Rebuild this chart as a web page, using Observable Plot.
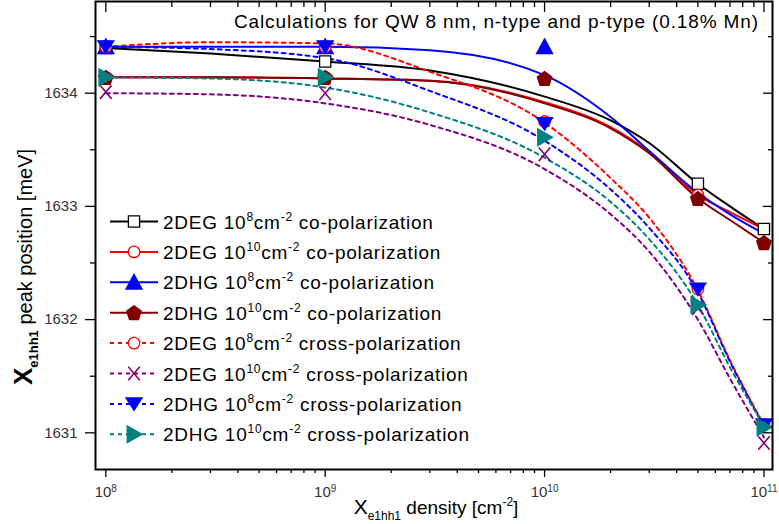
<!DOCTYPE html>
<html><head><meta charset="utf-8">
<script src="https://cdn.jsdelivr.net/npm/d3@7"></script>
<script src="https://cdn.jsdelivr.net/npm/@observablehq/plot@0.6"></script>
<style>
body{margin:0;background:#fff;}
#wrap{position:relative;width:779px;height:524px;overflow:hidden;}
svg{font-family:Arial,"Liberation Sans",sans-serif;}
</style></head><body><div id="wrap"></div>
<script>
// ---------- data ----------
const curveX = [1e8, 3e8, 1e9, 3e9, 1e10, 2e10, 3e10, 5e10, 7e10, 1e11];
const lineDEG8co   = [1634.40, 1634.35, 1634.28, 1634.20, 1633.97, 1633.76, 1633.56, 1633.20, 1633.00, 1632.80];
const lineDEG10co  = [1634.14, 1634.14, 1634.13, 1634.11, 1633.92, 1633.70, 1633.48, 1633.10, 1632.95, 1632.80];
const lineDHG8co   = [1634.41, 1634.41, 1634.41, 1634.38, 1634.16, 1633.79, 1633.49, 1633.12, 1632.93, 1632.76];
const lineDHG10co  = [1634.14, 1634.14, 1634.13, 1634.11, 1633.91, 1633.69, 1633.47, 1633.07, 1632.88, 1632.68];
const lineDEG8cr   = [1634.41, 1634.45, 1634.44, 1634.19, 1633.74, 1633.25, 1632.90, 1632.26, 1631.64, 1631.07];
const lineDEG10cr  = [1634.00, 1633.99, 1633.91, 1633.72, 1633.33, 1632.93, 1632.60, 1632.00, 1631.48, 1630.96];
const lineDHG8cr   = [1634.41, 1634.39, 1634.31, 1634.02, 1633.58, 1633.15, 1632.81, 1632.24, 1631.63, 1631.06];
const lineDHG10cr  = [1634.14, 1634.13, 1634.05, 1633.83, 1633.43, 1633.04, 1632.71, 1632.13, 1631.58, 1631.06];

const mkDEG8coX  = [1e8, 1e9, 5e10, 1e11];
const mkDEG8coY  = [1634.40, 1634.28, 1633.20, 1632.80];
const mkDEG10coX = [1e8, 1e9, 5e10];
const mkDEG10coY = [1634.14, 1634.14, 1633.10];
const mkDHG8coX  = [1e8, 1e9, 1e10];
const mkDHG8coY  = [1634.41, 1634.41, 1634.41];
const mkAllX     = [1e8, 1e9, 1e10, 5e10, 1e11];
const mkDHG10coY = [1634.14, 1634.14, 1634.13, 1633.07, 1632.68];
const mkDEG8crY  = [1634.41, 1634.41, 1633.75, 1632.27, 1631.07];
const mkDEG10crY = [1634.01, 1634.00, 1633.46, 1632.10, 1630.91];
const mkDHG8crY  = [1634.41, 1634.41, 1633.73, 1632.27, 1631.07];
const mkDHG10crY = [1634.14, 1634.14, 1633.61, 1632.13, 1631.05];

const legendGas = ["2DEG", "2DEG", "2DHG", "2DHG", "2DEG", "2DEG", "2DHG", "2DHG"];
const legendExp = ["8", "10", "8", "10", "8", "10", "8", "10"];
const legendPol = ["co-polarization", "co-polarization", "co-polarization", "co-polarization",
                   "cross-polarization", "cross-polarization", "cross-polarization", "cross-polarization"];

const xMajor = [1e8, 1e9, 1e10, 1e11];
const xMinor = [2e8,3e8,4e8,5e8,6e8,7e8,8e8,9e8, 2e9,3e9,4e9,5e9,6e9,7e9,8e9,9e9, 2e10,3e10,4e10,5e10,6e10,7e10,8e10,9e10];
const yMajor = [1631, 1632, 1633, 1634];
const yMinor = [1631.5, 1632.5, 1633.5, 1634.5];
const titleText = "Calculations for QW 8 nm, n-type and p-type (0.18% Mn)";

// ---------- symbols ----------
const R = s => Math.sqrt(s / Math.PI);
const symSquare = {draw(c, s){const h = R(s)*0.7; c.moveTo(-h,-h); c.lineTo(h,-h); c.lineTo(h,h); c.lineTo(-h,h); c.closePath();}};
const symCircle = {draw(c, s){const r = R(s)*0.72; c.moveTo(r,0); c.arc(0,0,r,0,2*Math.PI);}};
const symTriUp = {draw(c, s){const r = R(s); c.moveTo(0,-r); c.lineTo(r,r*0.85); c.lineTo(-r,r*0.85); c.closePath();}};
const symTriDown = {draw(c, s){const r = R(s); c.moveTo(0,r*0.8); c.lineTo(r,-r*0.75); c.lineTo(-r,-r*0.75); c.closePath();}};
const symTriRight = {draw(c, s){const r = R(s); c.moveTo(r,0); c.lineTo(-r*0.85,-r*1.05); c.lineTo(-r*0.85,r*1.05); c.closePath();}};
const symPent = {draw(c, s){const r = R(s)*0.95; for(let i=0;i<5;i++){const a = -Math.PI/2 + i*2*Math.PI/5; const px = r*Math.cos(a), py = r*Math.sin(a) + r*0.1; if(i===0) c.moveTo(px,py); else c.lineTo(px,py);} c.closePath();}};
const symTimes = {draw(c, s){const r = R(s)*0.85; c.moveTo(-r*0.85,-r); c.lineTo(r*0.85,r); c.moveTo(r*0.85,-r); c.lineTo(-r*0.85,r);}};

// ---------- series styles ----------
const series = [
  {line: lineDEG8co,  mx: mkDEG8coX,  my: mkDEG8coY,  color: "#000000", dash: null, sym: symSquare,  fill: "#ffffff"},
  {line: lineDEG10co, mx: mkDEG10coX, my: mkDEG10coY, color: "#ff0000", dash: null, sym: symCircle,  fill: "#ffffff"},
  {line: lineDHG8co,  mx: mkDHG8coX,  my: mkDHG8coY,  color: "#0000ff", dash: null, sym: symTriUp,   fill: "#0000ff"},
  {line: lineDHG10co, mx: mkAllX,     my: mkDHG10coY, color: "#800000", dash: null, sym: symPent,    fill: "#800000"},
  {line: lineDEG8cr,  mx: mkAllX,     my: mkDEG8crY,  color: "#ff0000", dash: "4,4", sym: symCircle, fill: "#ffffff"},
  {line: lineDEG10cr, mx: mkAllX,     my: mkDEG10crY, color: "#800080", dash: "4,4", sym: symTimes,  fill: "none"},
  {line: lineDHG8cr,  mx: mkAllX,     my: mkDHG8crY,  color: "#0000ff", dash: "4,4", sym: symTriDown, fill: "#0000ff"},
  {line: lineDHG10cr, mx: mkAllX,     my: mkDHG10crY, color: "#008080", dash: "4,4", sym: symTriRight, fill: "#008080"}
];

const marks = [];
series.forEach((s) => {
  const ld = curveX.map((x, j) => ({x, y: s.line[j]}));
  marks.push(Plot.line(ld, {x: "x", y: "y", stroke: s.color, strokeWidth: 2, strokeDasharray: s.dash, curve: "monotone-x"}));
});
series.forEach((s) => {
  const md = s.mx.map((x, j) => ({x, y: s.my[j]}));
  marks.push(Plot.dot(md, {x: "x", y: "y", r: 8, symbol: s.sym, fill: s.fill, stroke: s.color, strokeWidth: s.sym === symTimes ? 1.6 : 1.3}));
});

const noText = () => "";
const tickStyle = {stroke: "#000", strokeWidth: 1.3, label: null};
const chart = Plot.plot({
  width: 779, height: 524,
  marginLeft: 95, marginRight: 7, marginTop: 1, marginBottom: 55,
  style: {fontFamily: "Arial, 'Liberation Sans', sans-serif", background: "#fff", color: "#000"},
  x: {type: "log", domain: [Math.pow(10, 7.953), Math.pow(10, 11.039)], axis: null},
  y: {domain: [1630.676, 1634.81], axis: null},
  marks: [
    ...marks,
    Plot.axisX({anchor: "bottom", ticks: xMajor, tickSize: 8, tickPadding: 9, fontSize: 15,
      tickFormat: d => "10^" + Math.round(Math.log10(d)), ...tickStyle}),
    Plot.axisX({anchor: "bottom", ticks: xMinor, tickSize: 4, tickFormat: noText, ...tickStyle}),
    Plot.axisX({anchor: "top", ticks: xMajor, tickSize: 10, dy: 10, tickFormat: noText, ...tickStyle}),
    Plot.axisX({anchor: "top", ticks: xMinor, tickSize: 5, dy: 5, tickFormat: noText, ...tickStyle}),
    Plot.axisY({anchor: "left", ticks: yMajor, tickSize: 10, tickPadding: 8, fontSize: 15, tickFormat: d => String(d), ...tickStyle}),
    Plot.axisY({anchor: "left", ticks: yMinor, tickSize: 5, tickFormat: noText, ...tickStyle}),
    Plot.axisY({anchor: "right", ticks: yMajor, tickSize: 10, dx: -10, tickFormat: noText, ...tickStyle}),
    Plot.axisY({anchor: "right", ticks: yMinor, tickSize: 5, dx: -5, tickFormat: noText, ...tickStyle}),
    Plot.frame({stroke: "#000", strokeWidth: 2})
  ]
});
document.getElementById("wrap").appendChild(chart);

const svg = d3.select(chart);
// remove empty tick texts
svg.selectAll("text").filter(function(){ return this.textContent === ""; }).remove();
// x tick labels with superscripts
svg.selectAll('g[aria-label="x-axis tick label"] text').each(function(){
  const t = d3.select(this); const parts = t.text().split("^");
  if (parts.length < 2) return;
  t.text(parts[0]).attr("fill", "#333");
  t.append("tspan").attr("dy", "-0.55em").attr("font-size", "10px").text(parts[1]);
});
svg.selectAll('g[aria-label="y-axis tick label"] text').attr("fill", "#333");

// title
svg.append("text").attr("x", 758).attr("y", 28).attr("text-anchor", "end")
  .attr("font-size", 19).attr("textLength", 524).attr("lengthAdjust", "spacing")
  .attr("fill", "#000").text(titleText);

// x axis title
const xt = svg.append("text").attr("x", 436).attr("y", 514).attr("text-anchor", "middle").attr("font-size", 19).attr("fill", "#000");
xt.append("tspan").attr("font-size", 21).text("X");
xt.append("tspan").attr("font-size", 12).attr("dy", 6).text("e1hh1");
xt.append("tspan").attr("dy", -6).text(" density [cm");
xt.append("tspan").attr("font-size", 12).attr("dy", -8).text("-2");
xt.append("tspan").attr("dy", 8).text("]");

// y axis title
const yt = svg.append("text").attr("transform", "translate(32,267) rotate(-90)").attr("text-anchor", "middle").attr("font-size", 20).attr("fill", "#000");
yt.append("tspan").attr("font-size", 26).attr("font-weight", "bold").text("X");
yt.append("tspan").attr("font-size", 13).attr("font-weight", "bold").attr("dy", 6).text("e1hh1");
yt.append("tspan").attr("dy", -6).text(" peak position [meV]");

// legend
const lg = svg.append("g").attr("aria-label", "legend");
series.forEach((s, i) => {
  const cy = 221.5 + i * 30.4;
  const row = lg.append("g").attr("transform", `translate(0,${cy})`);
  row.append("line").attr("x1", 110).attr("x2", 158).attr("y1", 0).attr("y2", 0)
    .attr("stroke", s.color).attr("stroke-width", 2).attr("stroke-dasharray", s.dash);
  row.append("path").attr("transform", "translate(134,0)")
    .attr("d", d3.symbol().type(s.sym).size(Math.PI * 64)())
    .attr("fill", s.fill).attr("stroke", s.color)
    .attr("stroke-width", s.sym === symTimes ? 1.6 : 1.3);
  const t = row.append("text").attr("x", 163).attr("y", 7).attr("text-anchor", "start")
    .attr("font-size", 19).attr("letter-spacing", 0.75).attr("fill", "#000");
  t.append("tspan").text(legendGas[i] + " 10");
  t.append("tspan").attr("font-size", 12).attr("dy", -8).text(legendExp[i]);
  t.append("tspan").attr("dy", 8).text("cm");
  t.append("tspan").attr("font-size", 12).attr("dy", -8).text("-2");
  t.append("tspan").attr("dy", 8).text(" " + legendPol[i]);
});
</script>
</body></html>
